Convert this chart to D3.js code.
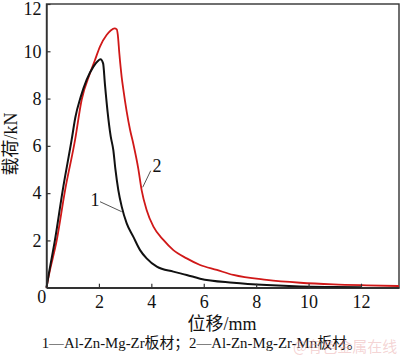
<!DOCTYPE html>
<html><head><meta charset="utf-8">
<script src="https://cdn.jsdelivr.net/npm/d3@7"></script>
<style>
html,body{margin:0;padding:0;background:#fff;}
svg{display:block;}
text{font-family:"Liberation Serif","Times New Roman","Noto Sans CJK SC",serif;fill:#111;}
</style></head>
<body>
<svg id="chart" width="400" height="356"></svg>
<script>
// Displacement (mm) and load (kN)
const series1Disp = [0,0.07,0.32,0.62,0.96,1.1,1.3,1.53,1.79,1.95,2.06,2.16,2.23,2.33,2.45,2.55,2.63,2.74,2.87,3.06,3.31,3.57,3.82,4.21,4.84,5.35,5.86,7.13,8.4,9.68,11.0,12.0];
const series1Load = [0,0.47,2.0,4.13,6.26,7.2,8.05,8.79,9.35,9.58,9.66,9.49,8.6,7.45,6.4,5.82,5.0,4.13,3.43,2.72,2.16,1.59,1.24,0.89,0.68,0.54,0.38,0.21,0.11,0.05,0.03,0.02];
const series2Disp = [0,0.08,0.39,0.71,1.09,1.34,1.66,1.85,2.04,2.3,2.45,2.6,2.68,2.72,2.78,2.87,2.93,3.06,3.19,3.31,3.5,3.63,3.82,4.08,4.46,4.84,5.35,5.86,6.5,7.13,8.4,9.68,10.95,12.2,13.45];
const series2Load = [0,0.47,2.0,4.13,6.25,7.94,9.07,9.63,10.2,10.7,10.88,10.97,10.93,10.7,9.9,8.9,8.4,7.45,6.67,6.1,5.05,4.13,3.29,2.58,2.02,1.59,1.24,0.96,0.75,0.54,0.33,0.21,0.14,0.1,0.07];
const xTicks = [2,4,6,8,10,12];
const yTicks = [2,4,6,8,10,12];
const xLabel = "位移/mm";
const yLabel = "载荷/kN";
const seriesNames = ["1","2"];
const caption = "1—Al-Zn-Mg-Zr板材；2—Al-Zn-Mg-Zr-Mn板材。";
const watermark = "@有色金属在线";

const FONT = '"Liberation Serif","Times New Roman","Noto Sans CJK SC",serif';
const svg = d3.select("#chart");
const x = d3.scaleLinear().domain([0,13.45]).range([46.5,399]);
const y = d3.scaleLinear().domain([0,12]).range([287.7,4]);

// frame
svg.append("rect").attr("x",x(0)).attr("y",y(12)).attr("width",x(13.45)-x(0)).attr("height",y(0)-y(12))
  .attr("fill","none").attr("stroke","#333").attr("stroke-width",1.4);

const line = d3.line().x(d=>x(d[0])).y(d=>y(d[1])).curve(d3.curveMonotoneX);
const d1 = series1Disp.map((v,i)=>[v,series1Load[i]]);
const d2 = series2Disp.map((v,i)=>[v,series2Load[i]]);
svg.append("path").attr("d",line(d2)).attr("fill","none").attr("stroke","#d01818").attr("stroke-width",1.8).attr("stroke-linejoin","round");
svg.append("path").attr("d",line(d1)).attr("fill","none").attr("stroke","#111").attr("stroke-width",2).attr("stroke-linejoin","round");

// axes
const xa = svg.append("g").attr("transform",`translate(0,${y(0)})`)
  .call(d3.axisBottom(x).tickValues(xTicks).tickSizeInner(-4).tickSizeOuter(0).tickPadding(8).tickFormat(d3.format("d")));
const ya = svg.append("g").attr("transform",`translate(${x(0)},0)`)
  .call(d3.axisLeft(y).tickValues(yTicks).tickSizeInner(-4).tickSizeOuter(0).tickPadding(5).tickFormat(d3.format("d")));
[xa,ya].forEach(g=>{
  g.attr("font-family",FONT);
  g.select(".domain").attr("stroke","#333").attr("stroke-width",1.4);
  g.selectAll(".tick line").attr("stroke","#333").attr("stroke-width",1.2);
  g.selectAll(".tick text").attr("font-size",18).style("font-family",FONT).attr("fill","#111");
});
ya.selectAll(".tick text").filter(d=>d===12).attr("dy","0.6em");
// corner zero
svg.append("text").attr("x",41.7).attr("y",303).attr("text-anchor","middle").attr("font-size",18).text("0");

// axis titles
svg.append("text").attr("x",222).attr("y",330).attr("text-anchor","middle").attr("font-size",18).text(xLabel);
svg.append("text").attr("transform","translate(17,144) rotate(-90)").attr("text-anchor","middle").attr("font-size",18).text(yLabel);

// series labels with leaders
svg.append("text").attr("x",95).attr("y",206).attr("text-anchor","middle").attr("font-size",18).text(seriesNames[0]);
svg.append("line").attr("x1",100).attr("y1",201.7).attr("x2",121.7).attr("y2",211.7).attr("stroke","#555").attr("stroke-width",1);
svg.append("text").attr("x",157).attr("y",172).attr("text-anchor","middle").attr("font-size",18).text(seriesNames[1]);
svg.append("line").attr("x1",150.7).attr("y1",170.7).attr("x2",142.7).attr("y2",187.3).attr("stroke","#555").attr("stroke-width",1);

// caption
svg.append("text").attr("x",41.7).attr("y",348).attr("font-size",15).attr("textLength",320).attr("lengthAdjust","spacingAndGlyphs").text(caption);
// watermark
svg.append("text").attr("x",293).attr("y",352).attr("font-size",15).style("font-family","Noto Sans CJK SC")
  .attr("fill-opacity",0.45).style("fill","#e8a0a0").text(watermark);
</script>
</body></html>
